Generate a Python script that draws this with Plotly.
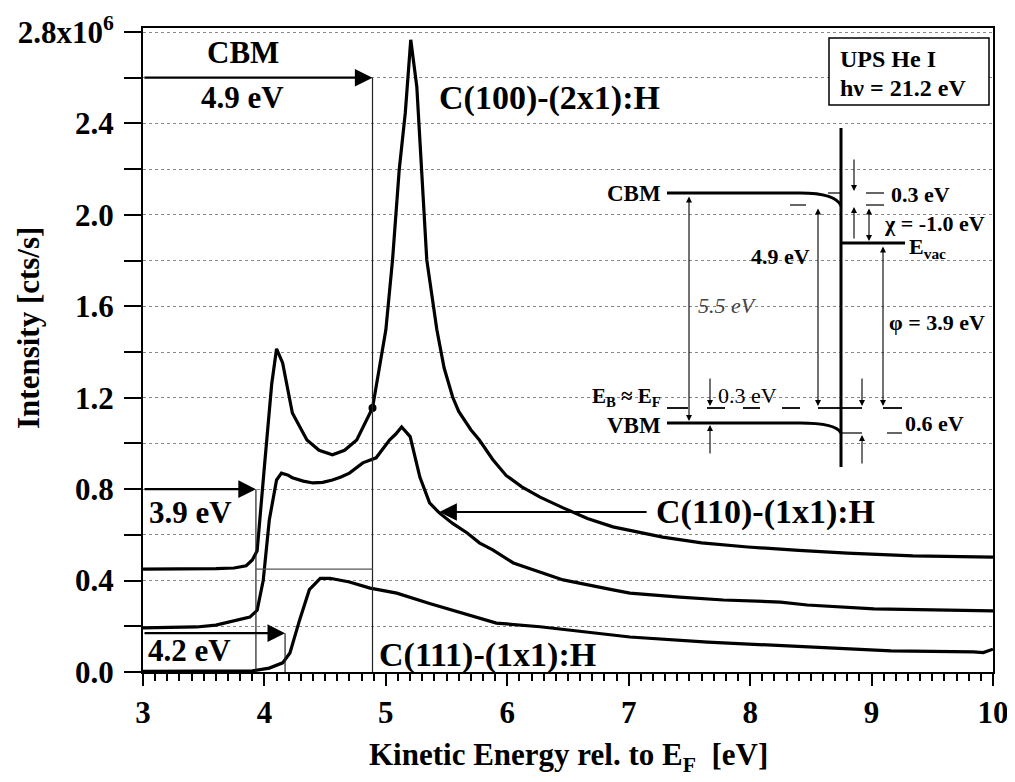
import plotly.graph_objects as go

# ---------------- data ----------------
x_c100 = [3.0, 3.3, 3.6, 3.75, 3.85, 3.9, 3.94, 4.0, 4.06, 4.1, 4.15, 4.23, 4.35, 4.45,
          4.56, 4.66, 4.76, 4.89, 5.0, 5.055, 5.11, 5.16, 5.205, 5.255, 5.296, 5.337,
          5.42, 5.48, 5.55, 5.6, 5.7, 5.77, 5.88, 5.99, 6.12, 6.27, 6.46, 6.66, 6.87, 7.28,
          7.6, 7.98, 8.4, 8.8, 9.34, 10.0]
y_c100 = [0.45, 0.45, 0.452, 0.455, 0.465, 0.49, 0.53, 0.90, 1.26, 1.414, 1.352, 1.133, 1.015, 0.97,
          0.95, 0.97, 1.015, 1.155, 1.497, 1.803, 2.197, 2.446, 2.766, 2.56, 2.197, 1.803,
          1.497, 1.33, 1.203, 1.14, 1.06, 1.015, 0.93, 0.86, 0.81, 0.765, 0.718, 0.672, 0.635, 0.59,
          0.565, 0.547, 0.532, 0.52, 0.508, 0.503]

x_c110 = [3.0, 3.44, 3.6, 3.71, 3.8, 3.88, 3.94, 3.99, 4.04, 4.1, 4.14, 4.19, 4.23, 4.32, 4.4,
          4.48, 4.56, 4.63, 4.7, 4.81, 4.92, 5.03, 5.08, 5.13, 5.2, 5.28, 5.36, 5.44, 5.55,
          5.67, 5.77, 5.88, 6.05, 6.27, 6.46, 6.87, 7.01, 7.42, 7.78, 8.25, 8.47, 9.02, 9.5, 10.0]
y_c110 = [0.193, 0.197, 0.205, 0.219, 0.228, 0.24, 0.27, 0.40, 0.665, 0.84, 0.87, 0.862, 0.85, 0.835, 0.827,
          0.83, 0.84, 0.853, 0.87, 0.915, 0.937, 1.015, 1.04, 1.072, 1.03, 0.853, 0.74, 0.696, 0.65,
          0.608, 0.565, 0.534, 0.477, 0.438, 0.403, 0.359, 0.345, 0.328, 0.315, 0.306, 0.293, 0.276, 0.27, 0.267]

x_c111 = [3.0, 3.5, 3.9, 4.04, 4.15, 4.21, 4.29, 4.37, 4.46, 4.54, 4.7, 4.87, 5.09, 5.36, 5.64,
          5.91, 6.27, 6.41, 7.01, 7.65, 8.47, 9.16, 9.84, 9.92, 10.0]
y_c111 = [0.003, 0.003, 0.005, 0.017, 0.04, 0.083, 0.228, 0.36, 0.41, 0.41, 0.394, 0.367, 0.345, 0.30, 0.258,
          0.214, 0.198, 0.19, 0.153, 0.131, 0.109, 0.092, 0.088, 0.085, 0.10]

curve_labels = ["C(100)-(2x1):H", "C(110)-(1x1):H", "C(111)-(1x1):H"]

# analysis markers: (energy eV, intensity level of arrow)
cbm_energy, cbm_level = 4.89, 2.6
phi_energy, phi_level = 3.93, 0.8
onset_energy, onset_level = 4.17, 0.17
baseline_c100 = 0.45
cbm_dot = (4.89, 1.155)

y_ticks = [0.0, 0.4, 0.8, 1.2, 1.6, 2.0, 2.4, 2.8]
y_ticktext = ["0.0", "0.4", "0.8", "1.2", "1.6", "2.0", "2.4", "2.8x10<sup>6</sup>"]
x_ticks = [3, 4, 5, 6, 7, 8, 9, 10]

FONT = "Liberation Serif"
BLACK = "black"

fig = go.Figure()
for xs, ys in [(x_c100, y_c100), (x_c110, y_c110), (x_c111, y_c111)]:
    fig.add_trace(go.Scatter(x=xs, y=ys, mode="lines", line=dict(color=BLACK, width=3.2),
                             showlegend=False, hoverinfo="skip"))
fig.add_trace(go.Scatter(x=[cbm_dot[0]], y=[cbm_dot[1]], mode="markers",
                         marker=dict(color=BLACK, size=8), showlegend=False))

shapes = []
ann = []

def dline(x0, y0, x1, y1, w=1.2, color="#222"):
    shapes.append(dict(type="line", xref="x", yref="y", x0=x0, y0=y0, x1=x1, y1=y1,
                       line=dict(color=color, width=w)))

# thin guide lines in data space
dline(cbm_energy, 0, cbm_energy, cbm_level)
dline(phi_energy, 0, phi_energy, phi_level)
dline(onset_energy, 0, onset_energy, onset_level)
dline(phi_energy, baseline_c100, cbm_energy, baseline_c100, w=1.2, color="#555")

def darrow(x_head, y_head, x_tail, y_tail, w=2.2, size=1.6):
    ann.append(dict(x=x_head, y=y_head, ax=x_tail, ay=y_tail, xref="x", yref="y",
                    axref="x", ayref="y", showarrow=True, arrowhead=2, arrowsize=size,
                    arrowwidth=w, arrowcolor=BLACK, text="", standoff=0))

darrow(cbm_energy, cbm_level, 3.0, cbm_level)
darrow(phi_energy, phi_level, 3.0, phi_level)
darrow(onset_energy, onset_level, 3.0, onset_level)
darrow(5.44, 0.70, 7.16, 0.70)

def dtext(x, y, t, size=31, xanchor="center", bold=True):
    ann.append(dict(x=x, y=y, xref="x", yref="y", text=t, showarrow=False, xanchor=xanchor,
                    yanchor="middle", font=dict(family=FONT, size=size, color=BLACK,
                                                weight="bold" if bold else "normal")))

dtext(3.82, 2.71, "CBM")
dtext(3.82, 2.515, "4.9 eV")
dtext(3.39, 0.70, "3.9 eV")
dtext(3.38, 0.092, "4.2 eV")
dtext(5.42, 2.51, curve_labels[0], xanchor="left", size=34)
dtext(7.21, 0.70, curve_labels[1], xanchor="left", size=34)
dtext(4.93, 0.074, curve_labels[2], xanchor="left", size=34)

# ---------------- inset band diagram (reference pixel positions -> paper) ----------------
# plot area in screen pixels (page body has an 8 px margin)
PL, PR, PT, PB = 143, 993, 28, 672
OFF = 8
FIG_W, FIG_H = 1015 - OFF, 782 - OFF

def P(x, y):
    return (x - PL) / (PR - PL), (PB - y) / (PB - PT)

def pline(x0, y0, x1, y1, w=1.2, dash=None):
    a = P(x0, y0); b = P(x1, y1)
    d = dict(color=BLACK, width=w)
    if dash:
        d["dash"] = dash
    shapes.append(dict(type="line", xref="paper", yref="paper", x0=a[0], y0=a[1],
                       x1=b[0], y1=b[1], line=d))

def ppath(pts, w=3):
    (x0, y0), (x1, y1), (cx, cy), (x2, y2) = pts
    a, b, c, e = P(x0, y0), P(x1, y1), P(cx, cy), P(x2, y2)
    path = f"M {a[0]},{a[1]} L {b[0]},{b[1]} Q {c[0]},{c[1]} {e[0]},{e[1]}"
    shapes.append(dict(type="path", xref="paper", yref="paper", path=path,
                       line=dict(color=BLACK, width=w)))

def parrow(xh, yh, xt, yt, both=False):
    h = P(xh, yh)
    ann.append(dict(x=h[0], y=h[1], xref="paper", yref="paper", ax=xt - xh, ay=yt - yh,
                    showarrow=True, arrowhead=2, arrowsize=1.1, arrowwidth=1.1,
                    arrowcolor=BLACK, arrowside="end+start" if both else "end",
                    startarrowhead=2, startarrowsize=1.1, text="", standoff=0, startstandoff=0))

def ptext(x, y, t, size=22, xanchor="left", bold=True, italic=False, color=BLACK):
    p = P(x, y)
    ann.append(dict(x=p[0], y=p[1], xref="paper", yref="paper", text=t, showarrow=False,
                    xanchor=xanchor, yanchor="middle",
                    font=dict(family=FONT, size=size, color=color,
                              weight="bold" if bold else "normal",
                              style="italic" if italic else "normal")))

# surface / levels
pline(841, 128, 841, 467, w=3)
ppath([(667, 193), (800, 193), (836, 193), (841, 206)])
ppath([(667, 423), (800, 423), (836, 423), (841, 433)])
pline(841, 243, 905, 243, w=3)
# small level marks
pline(828, 193, 840, 193)
pline(790, 205, 806, 205)
pline(866, 193, 884, 193)
pline(866, 205, 884, 205)
# E_F dashed level
for x0, x1 in [(667, 688), (707, 725), (743, 760), (782, 800), (818, 841), (841, 862), (883, 902)]:
    pline(x0, 408, x1, 408, w=1.8)
pline(841, 433, 862, 433)
pline(887, 433, 902, 433)
# arrows
parrow(854, 191, 854, 158)
parrow(854, 207, 854, 240)
parrow(869, 241, 869, 207, both=True)
parrow(818, 406, 818, 207, both=True)
parrow(689, 421, 689, 195, both=True)
parrow(883, 406, 883, 245, both=True)
parrow(710, 406, 710, 377)
parrow(710, 425, 710, 455)
parrow(862, 406, 862, 377)
parrow(862, 435, 862, 465)
# texts
ptext(663, 193, "CBM", xanchor="right", size=23)
ptext(663, 397, "E<sub>B</sub> ≈ E<sub>F</sub>", xanchor="right", size=21)
ptext(663, 425, "VBM", xanchor="right", size=23)
ptext(889, 195, "0.3 eV")
ptext(882, 223, "χ = -1.0 eV")
ptext(907, 248, "E<sub>vac</sub>")
ptext(812, 257, "4.9 eV", xanchor="right")
ptext(696, 305, "5.5 eV", bold=False, italic=True, color="#444")
ptext(887, 322, "φ = 3.9 eV")
ptext(716, 395, "0.3 eV", bold=False)
ptext(903, 423, "0.6 eV")

# UPS box
b0 = P(829, 38); b1 = P(989, 105)
shapes.append(dict(type="rect", xref="paper", yref="paper", x0=b0[0], y0=b1[1], x1=b1[0], y1=b0[1],
                   line=dict(color=BLACK, width=1.5), fillcolor="white"))
ptext(838, 59, "UPS He I", size=24)
ptext(838, 88, "hν = 21.2 eV", size=24)

# axis titles as annotations for exact placement
xt = P(568, 757)
ann.append(dict(x=xt[0], y=xt[1], xref="paper", yref="paper", showarrow=False,
                text="Kinetic Energy rel. to E<sub>F</sub>  [eV]", xanchor="center", yanchor="middle",
                font=dict(family=FONT, size=31, color=BLACK, weight="bold")))
yt = P(28, 328)
ann.append(dict(x=yt[0], y=yt[1], xref="paper", yref="paper", showarrow=False, textangle=-90,
                text="Intensity [cts/s]", xanchor="center", yanchor="middle",
                font=dict(family=FONT, size=31, color=BLACK, weight="bold")))

fig.update_layout(
    width=FIG_W, height=FIG_H,
    margin=dict(l=PL - OFF, r=FIG_W - (PR - OFF), t=PT - OFF, b=FIG_H - (PB - OFF), autoexpand=False),
    paper_bgcolor="white", plot_bgcolor="white",
    shapes=shapes, annotations=ann, showlegend=False,
    font=dict(family=FONT, color=BLACK),
)
fig.update_xaxes(
    range=[3, 10], tickvals=x_ticks, ticks="outside", ticklen=12, tickwidth=2, tickcolor=BLACK,
    minor=dict(dtick=0.1, tick0=3, ticks="outside", ticklen=7, tickwidth=1.5, tickcolor=BLACK, showgrid=False),
    showgrid=False, zeroline=False, showline=True, linecolor=BLACK, linewidth=2, mirror=True,
    automargin=False,
    tickfont=dict(family=FONT, size=31, color=BLACK, weight="bold"),
)
fig.update_yaxes(
    range=[0, 2.8175], tickvals=y_ticks, ticktext=y_ticktext, ticks="outside", ticklen=17,
    tickwidth=2, tickcolor=BLACK, ticklabelstandoff=4,
    showgrid=True, gridcolor="#888", gridwidth=1, griddash="dot",
    minor=dict(dtick=0.2, tick0=0, ticks="outside", ticklen=17, tickwidth=2, tickcolor=BLACK,
               showgrid=True, gridcolor="#888", gridwidth=1, griddash="dot"),
    zeroline=False, showline=True, linecolor=BLACK, linewidth=2, mirror=True,
    automargin=False,
    tickfont=dict(family=FONT, size=31, color=BLACK, weight="bold"),
)

fig.write_html("out.html")
